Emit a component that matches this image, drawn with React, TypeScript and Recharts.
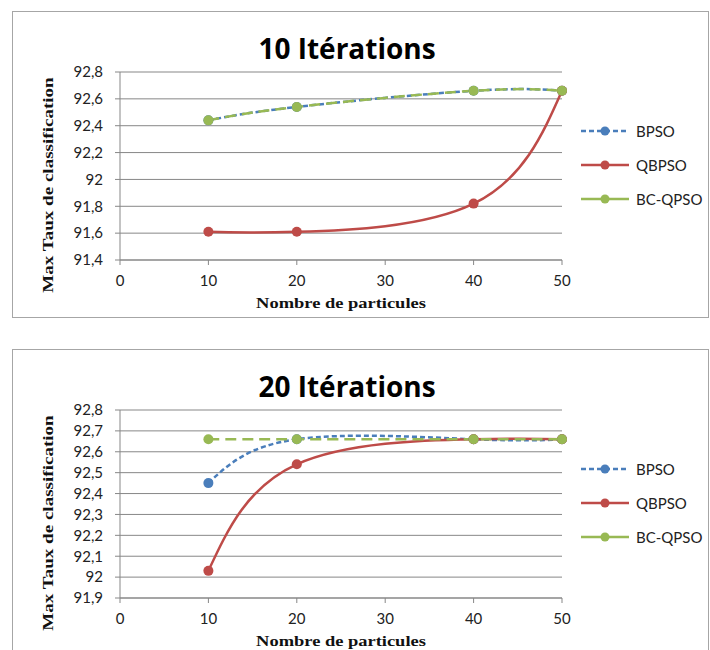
import React from "react";
import { LineChart, Line, XAxis, YAxis, CartesianGrid } from "recharts";

// x values (Nombre de particules)
const particles = [10, 20, 40, 50];
const xTicks = [0, 10, 20, 30, 40, 50];

// 10 itérations
const bpso10 = [92.44, 92.54, 92.66, 92.66];
const qbpso10 = [91.61, 91.61, 91.82, 92.66];
const bcqpso10 = [92.44, 92.54, 92.66, 92.66];
const yTicks10 = [91.4, 91.6, 91.8, 92, 92.2, 92.4, 92.6, 92.8];

// 20 itérations
const bpso20 = [92.45, 92.66, 92.66, 92.66];
const qbpso20 = [92.03, 92.54, 92.66, 92.66];
const bcqpso20 = [92.66, 92.66, 92.66, 92.66];
const yTicks20 = [91.9, 92, 92.1, 92.2, 92.3, 92.4, 92.5, 92.6, 92.7, 92.8];

const seriesNames = ["BPSO", "QBPSO", "BC-QPSO"];

const COLORS: Record<string, string> = {
  BPSO: "#4a7ebb",
  QBPSO: "#be4b48",
  "BC-QPSO": "#98b954",
};
const DASHES: Record<string, string | undefined> = {
  BPSO: "5 3",
  QBPSO: undefined,
  "BC-QPSO": "11 6",
};

const GRID = "#878787";
const W = 697;
const H = 307;

const fmt = (v: number) => String(+v.toFixed(1)).replace(".", ",");

function buildRows(a: number[], b: number[], c: number[]) {
  return particles.map((p, i) => ({
    x: p,
    BPSO: a[i],
    QBPSO: b[i],
    "BC-QPSO": c[i],
  }));
}

const serifLabel: React.CSSProperties = {
  position: "absolute",
  textAlign: "center",
  fontFamily: "Liberation Serif",
  fontWeight: 700,
  fontSize: 15,
  lineHeight: "20px",
  height: 20,
  color: "#111",
  whiteSpace: "nowrap",
};

interface PanelProps {
  title: string;
  top: number;
  rows: Record<string, number>[];
  yTicks: number[];
}

function Panel({ title, top, rows, yTicks }: PanelProps) {
  return (
    <div
      style={{
        position: "absolute",
        left: 12,
        top,
        width: W,
        height: H,
        border: "1px solid #a6a6a6",
        boxSizing: "border-box",
        background: "#fff",
      }}
    >
      <div
        style={{
          position: "absolute",
          left: 0,
          width: 668,
          top: 20,
          lineHeight: "32px",
          textAlign: "center",
          fontFamily: "Open Sans",
          fontWeight: 700,
          fontSize: 28,
          color: "#000",
        }}
      >
        {title}
      </div>
      <LineChart
        width={W - 2}
        height={H - 2}
        data={rows}
        margin={{ top: 60, right: 146, bottom: 27, left: 47 }}
      >
        <CartesianGrid vertical={false} stroke={GRID} strokeWidth={1} />
        <XAxis
          dataKey="x"
          type="number"
          domain={[0, 50]}
          ticks={xTicks}
          height={30}
          stroke={GRID}
          tickSize={5}
          tickMargin={10}
          tick={{ fill: "#222", fontSize: 15, fontFamily: "Lato" }}
        />
        <YAxis
          type="number"
          domain={[yTicks[0], yTicks[yTicks.length - 1]]}
          ticks={yTicks}
          width={60}
          stroke={GRID}
          tickSize={5}
          tickMargin={12}
          tickFormatter={fmt}
          interval={0}
          tick={{ fill: "#222", fontSize: 15, fontFamily: "Lato" }}
        />
        {seriesNames.map((s) => (
          <Line
            key={s}
            type="natural"
            dataKey={s}
            stroke={COLORS[s]}
            strokeWidth={2.5}
            strokeDasharray={DASHES[s]}
            dot={{ r: 5, fill: COLORS[s], stroke: "none", strokeDasharray: "" }}
            activeDot={false}
            isAnimationActive={false}
          />
        ))}
      </LineChart>
      <div
        style={{
          ...serifLabel,
          left: 35 - 150,
          top: 173 - 10,
          width: 300,
          transform: "rotate(-90deg) scaleX(1.27)",
        }}
      >
        Max Taux de classification
      </div>
      <div
        style={{
          ...serifLabel,
          left: 328 - 150,
          top: 291 - 10,
          width: 300,
          transform: "scaleX(1.23)",
        }}
      >
        Nombre de particules
      </div>
      {seriesNames.map((s, i) => (
        <div
          key={s}
          style={{
            position: "absolute",
            left: 567,
            top: 108 + i * 34,
            height: 22,
            display: "flex",
            alignItems: "center",
          }}
        >
          <svg width={50} height={12}>
            <line
              x1={1}
              y1={6}
              x2={49}
              y2={6}
              stroke={COLORS[s]}
              strokeWidth={2.5}
              strokeDasharray={s === "BPSO" ? "5 3" : undefined}
            />
            <circle cx={25} cy={6} r={4.5} fill={COLORS[s]} />
          </svg>
          <span
            style={{
              marginLeft: 6,
              fontFamily: "Lato",
              fontSize: 15,
              color: "#222",
            }}
          >
            {s}
          </span>
        </div>
      ))}
    </div>
  );
}

export default function App() {
  return (
    <div
      style={{
        position: "absolute",
        left: 0,
        top: 0,
        width: 710,
        height: 650,
        overflow: "hidden",
        background: "#fff",
      }}
    >
      <Panel
        title="10 Itérations"
        top={11}
        rows={buildRows(bpso10, qbpso10, bcqpso10)}
        yTicks={yTicks10}
      />
      <Panel
        title="20 Itérations"
        top={349}
        rows={buildRows(bpso20, qbpso20, bcqpso20)}
        yTicks={yTicks20}
      />
    </div>
  );
}
